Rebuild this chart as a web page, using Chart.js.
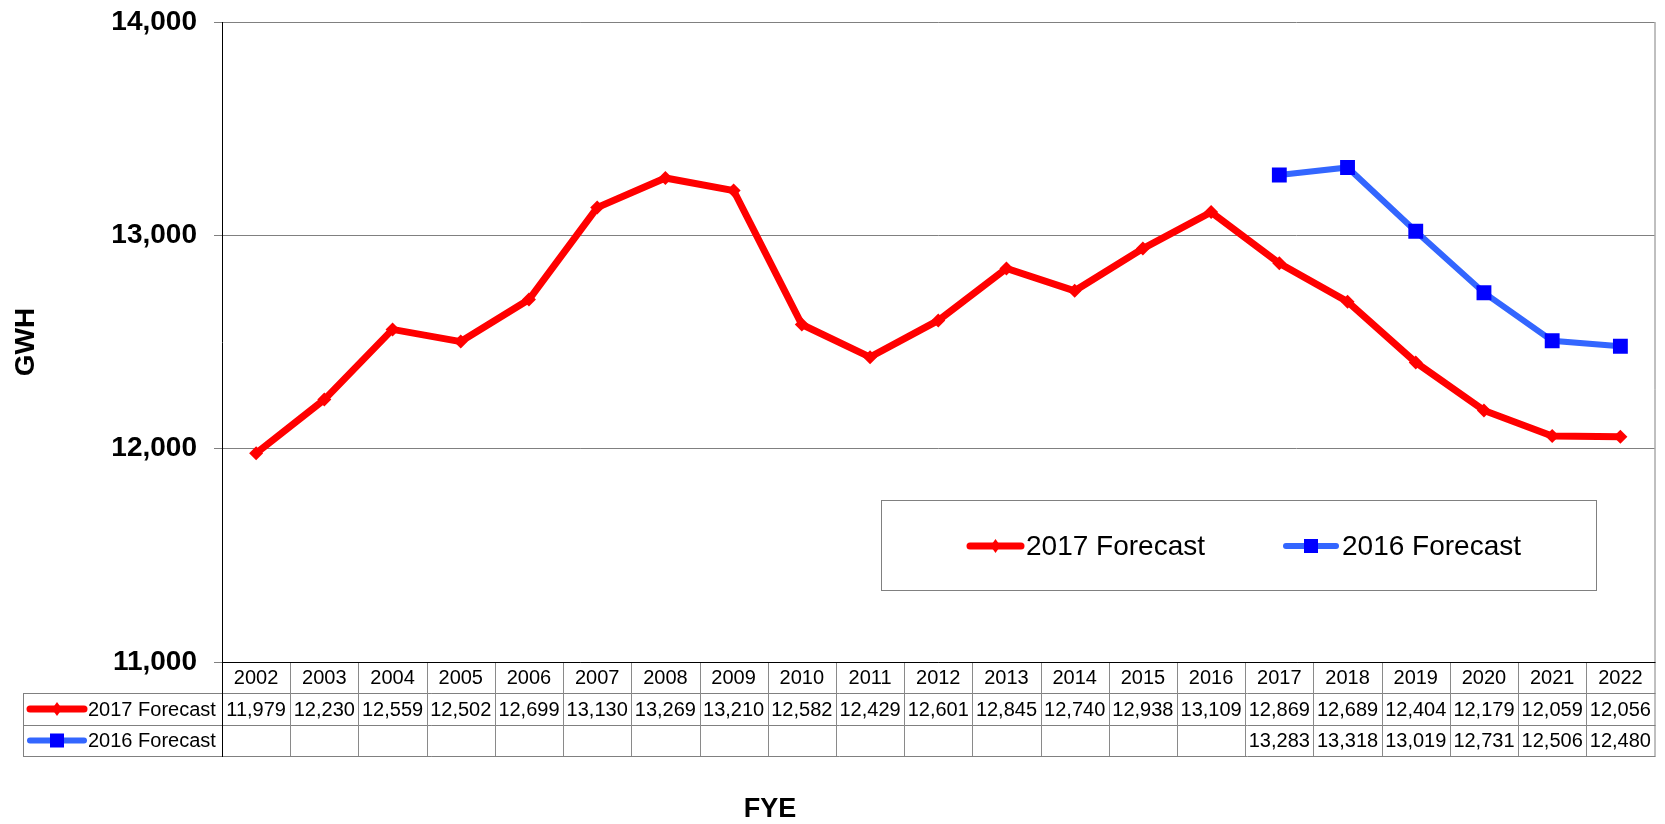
<!DOCTYPE html>
<html>
<head>
<meta charset="utf-8">
<script src="https://cdn.jsdelivr.net/npm/chart.js@4/dist/chart.umd.min.js"></script>
<style>
  html, body { margin: 0; padding: 0; background: #fff; }
  #chart { display: block; }
</style>
</head>
<body>
<canvas id="chart" width="1665" height="824"></canvas>
<script>
const years = ["2002", "2003", "2004", "2005", "2006", "2007", "2008", "2009", "2010", "2011", "2012",
  "2013", "2014", "2015", "2016", "2017", "2018", "2019", "2020", "2021", "2022"];
const forecast2017 = [11979, 12230, 12559, 12502, 12699, 13130, 13269, 13210, 12582, 12429, 12601,
  12845, 12740, 12938, 13109, 12869, 12689, 12404, 12179, 12059, 12056];
const forecast2016 = [null, null, null, null, null, null, null, null, null, null, null,
  null, null, null, null, 13283, 13318, 13019, 12731, 12506, 12480];
const seriesNames = ["2017 Forecast", "2016 Forecast"];
const yMin = 11000, yMax = 14000, yStep = 1000;

const RED = '#ff0000';
const BLUE_LINE = '#3366ff';
const BLUE_MARK = '#0000ff';
const FONT = '"Liberation Sans", Arial, sans-serif';

const fmt = v => v.toLocaleString('en-US');

// small marker + line swatch, used in the legend box and in the table
function drawSwatch(ctx, kind, x1, x2, y) {
  const cx = (x1 + x2) / 2;
  ctx.save();
  ctx.lineCap = 'round';
  ctx.strokeStyle = kind === 0 ? RED : BLUE_LINE;
  ctx.lineWidth = kind === 0 ? 7 : 6;
  ctx.beginPath();
  ctx.moveTo(x1, y);
  ctx.lineTo(x2, y);
  ctx.stroke();
  if (kind === 0) {
    ctx.fillStyle = RED;
    ctx.beginPath();
    ctx.moveTo(cx - 5, y);
    ctx.lineTo(cx, y - 7);
    ctx.lineTo(cx + 5, y);
    ctx.lineTo(cx, y + 7);
    ctx.closePath();
    ctx.fill();
  } else {
    ctx.fillStyle = BLUE_MARK;
    ctx.fillRect(cx - 7, y - 7, 14, 14);
  }
  ctx.restore();
}

const tablePlugin = {
  id: 'dataTable',
  afterDraw(chart) {
    const { ctx, chartArea: a, scales: { x } } = chart;
    const colW = (a.right - a.left) / years.length;
    const r0 = a.bottom, r1 = a.bottom + 31, r2 = a.bottom + 63, r3 = a.bottom + 94;
    const labelLeft = 23;

    ctx.save();
    ctx.lineWidth = 1;

    // right frame of the plot
    ctx.strokeStyle = '#808080';
    ctx.beginPath();
    ctx.moveTo(a.right + 0.5, a.top);
    ctx.lineTo(a.right + 0.5, r3 + 0.5);
    ctx.stroke();

    // table horizontal rules
    [r1, r2, r3].forEach(y => {
      ctx.beginPath();
      ctx.moveTo(labelLeft, y + 0.5);
      ctx.lineTo(a.right + 1, y + 0.5);
      ctx.stroke();
    });
    // label column left edge
    ctx.beginPath();
    ctx.moveTo(labelLeft + 0.5, r1);
    ctx.lineTo(labelLeft + 0.5, r3 + 1);
    ctx.stroke();

    // column separators
    ctx.strokeStyle = '#8a8a8a';
    for (let i = 1; i < years.length; i++) {
      const xx = Math.round(x.getPixelForValue(i) - colW / 2) + 0.5;
      ctx.beginPath();
      ctx.moveTo(xx, r0);
      ctx.lineTo(xx, r3);
      ctx.stroke();
    }

    // plot bottom axis + left edge through table, black
    ctx.strokeStyle = '#000';
    ctx.beginPath();
    ctx.moveTo(a.left, r0 + 0.5);
    ctx.lineTo(a.right + 1, r0 + 0.5);
    ctx.stroke();
    ctx.beginPath();
    ctx.moveTo(a.left + 0.5, r0);
    ctx.lineTo(a.left + 0.5, r3 + 1);
    ctx.stroke();

    // cell text
    ctx.fillStyle = '#000';
    ctx.font = '20px ' + FONT;
    ctx.textAlign = 'center';
    ctx.textBaseline = 'middle';
    years.forEach((yr, i) => {
      const cx = x.getPixelForValue(i);
      ctx.fillText(yr, cx, (r0 + r1) / 2 + 1);
      if (forecast2017[i] != null) ctx.fillText(fmt(forecast2017[i]), cx, (r1 + r2) / 2 + 1);
      if (forecast2016[i] != null) ctx.fillText(fmt(forecast2016[i]), cx, (r2 + r3) / 2 + 1);
    });

    // row labels with swatches
    ctx.textAlign = 'left';
    drawSwatch(ctx, 0, 30, 84, (r1 + r2) / 2);
    drawSwatch(ctx, 1, 30, 84, (r2 + r3) / 2);
    ctx.fillText(seriesNames[0], 88, (r1 + r2) / 2 + 1);
    ctx.fillText(seriesNames[1], 88, (r2 + r3) / 2 + 1);

    // legend box inside the plot
    ctx.strokeStyle = '#808080';
    ctx.strokeRect(881.5, 500.5, 715, 90);
    drawSwatch(ctx, 0, 970, 1021, 546);
    drawSwatch(ctx, 1, 1286, 1336, 546);
    ctx.font = '28px ' + FONT;
    ctx.fillText(seriesNames[0], 1026, 547);
    ctx.fillText(seriesNames[1], 1342, 547);

    // x axis title
    ctx.font = 'bold 27px ' + FONT;
    ctx.textAlign = 'center';
    ctx.fillText('FYE', 770, 810);
    ctx.restore();
  }
};

new Chart(document.getElementById('chart').getContext('2d'), {
  type: 'line',
  data: {
    labels: years,
    datasets: [
      {
        label: seriesNames[0],
        data: forecast2017,
        borderColor: RED,
        borderWidth: 7,
        backgroundColor: RED,
        pointStyle: 'rectRot',
        pointRadius: 7,
        pointBorderWidth: 0,
        pointBackgroundColor: RED,
        tension: 0
      },
      {
        label: seriesNames[1],
        data: forecast2016,
        borderColor: BLUE_LINE,
        borderWidth: 6,
        backgroundColor: BLUE_MARK,
        pointStyle: 'rect',
        pointRadius: 10.5,
        pointBorderWidth: 0,
        pointBackgroundColor: BLUE_MARK,
        tension: 0
      }
    ]
  },
  options: {
    responsive: false,
    animation: false,
    layout: { padding: { top: 22, right: 8, bottom: 162, left: 0 } },
    plugins: {
      legend: { display: false },
      tooltip: { enabled: false }
    },
    scales: {
      x: {
        display: false,
        offset: true
      },
      y: {
        min: yMin,
        max: yMax,
        afterFit: s => { s.width = 222; s.paddingTop = 0; s.paddingBottom = 0; },
        ticks: {
          stepSize: yStep,
          padding: 17,
          color: '#000',
          font: { family: FONT, size: 28, weight: 'bold' },
          callback: v => fmt(v)
        },
        grid: { color: '#808080', lineWidth: 1, tickLength: 8 },
        border: { display: true, color: '#000', width: 1 },
        title: {
          display: true,
          text: 'GWH',
          color: '#000',
          padding: { top: 9, bottom: 0 },
          font: { family: FONT, size: 28, weight: 'bold' }
        }
      }
    }
  },
  plugins: [tablePlugin]
});
</script>
</body>
</html>
